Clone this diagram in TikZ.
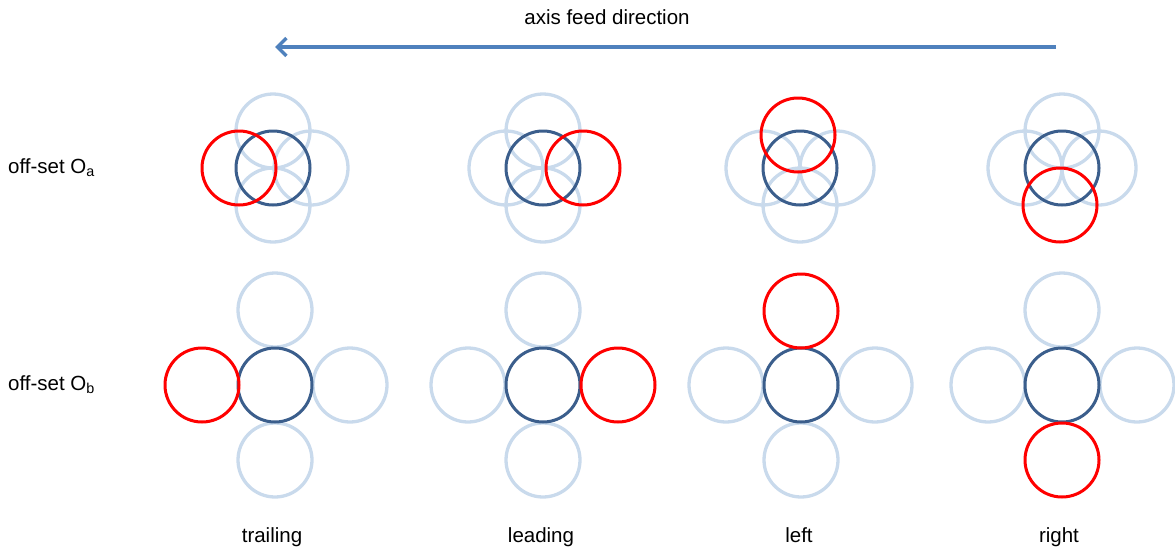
\documentclass[tikz,border=0pt]{standalone}
\usepackage{fontspec}
\setmainfont{Liberation Sans}
\usetikzlibrary{arrows.meta}
\definecolor{darkblue}{HTML}{3B5E8C}
\definecolor{lightblue}{HTML}{C9DAEC}
\definecolor{feedblue}{HTML}{4F81BD}
\definecolor{redc}{HTML}{FF0000}
\tikzset{
  ring/.style={circle, minimum size=74pt, inner sep=0pt, line width=3pt},
  lightring/.style={ring, draw=lightblue, line width=3.3pt},
  darkring/.style={ring, draw=darkblue},
  redring/.style={ring, draw=redc},
  lbl/.style={font=\fontsize{20.5}{24}\selectfont, inner sep=0pt, anchor=base},
}
\begin{document}
\begin{tikzpicture}[x=1pt,y=-1pt]
\useasboundingbox (0,0) rectangle (1175,549);
% title and arrow
\node[lbl] (title) at (607,24) {axis feed direction};
\coordinate (arrS) at (1056,47);
\coordinate (arrE) at (275,47);
\draw[feedblue, line width=3.5pt, -{Straight Barb[length=9pt,width=18pt,line width=3.5pt]}] (arrS) -- (arrE);
% row labels
\node[lbl, anchor=base west] (la) at (8,173) {off-set O\textsubscript{a}};
\node[lbl, anchor=base west] (lb) at (8,390) {off-set O\textsubscript{b}};
% column labels
\node[lbl] (c1) at (272,542) {trailing};
\node[lbl] (c2) at (541,542) {leading};
\node[lbl] (c3) at (799,542) {left};
\node[lbl] (c4) at (1059,542) {right};
% ---------- Row Oa ----------
% trailing
\node[lightring] (a1t) at (273,131) {};
\node[lightring] (a1r) at (311,168) {};
\node[lightring] (a1b) at (273,205) {};
\node[darkring] (a1c) at (273,168) {};
\node[redring] (a1l) at (239,168) {};
% leading
\node[lightring] (a2t) at (543,131) {};
\node[lightring] (a2l) at (506,168) {};
\node[lightring] (a2b) at (543,205) {};
\node[darkring] (a2c) at (543,168) {};
\node[redring] (a2r) at (583,168) {};
% left
\node[lightring] (a3l) at (763,168) {};
\node[lightring] (a3r) at (837,168) {};
\node[lightring] (a3b) at (800,205) {};
\node[darkring] (a3c) at (800,168) {};
\node[redring] (a3t) at (798,135) {};
% right
\node[lightring] (a4l) at (1025,168) {};
\node[lightring] (a4r) at (1099,168) {};
\node[lightring] (a4t) at (1062,131) {};
\node[darkring] (a4c) at (1062,168) {};
\node[redring] (a4b) at (1060,205) {};
% ---------- Row Ob ----------
% trailing
\node[lightring] (b1t) at (275,310) {};
\node[lightring] (b1r) at (350,385) {};
\node[lightring] (b1b) at (275,460) {};
\node[darkring] (b1c) at (275,385) {};
\node[redring] (b1l) at (202,385) {};
% leading
\node[lightring] (b2t) at (543,310) {};
\node[lightring] (b2l) at (468,385) {};
\node[lightring] (b2b) at (543,460) {};
\node[darkring] (b2c) at (543,385) {};
\node[redring] (b2r) at (618,385) {};
% left
\node[lightring] (b3l) at (726,385) {};
\node[lightring] (b3r) at (875,385) {};
\node[lightring] (b3b) at (801,460) {};
\node[darkring] (b3c) at (801,385) {};
\node[redring] (b3t) at (801,311) {};
% right
\node[lightring] (b4l) at (988,385) {};
\node[lightring] (b4r) at (1137,385) {};
\node[lightring] (b4t) at (1062,310) {};
\node[darkring] (b4c) at (1062,385) {};
\node[redring] (b4b) at (1062,460) {};
\end{tikzpicture}
\end{document}
